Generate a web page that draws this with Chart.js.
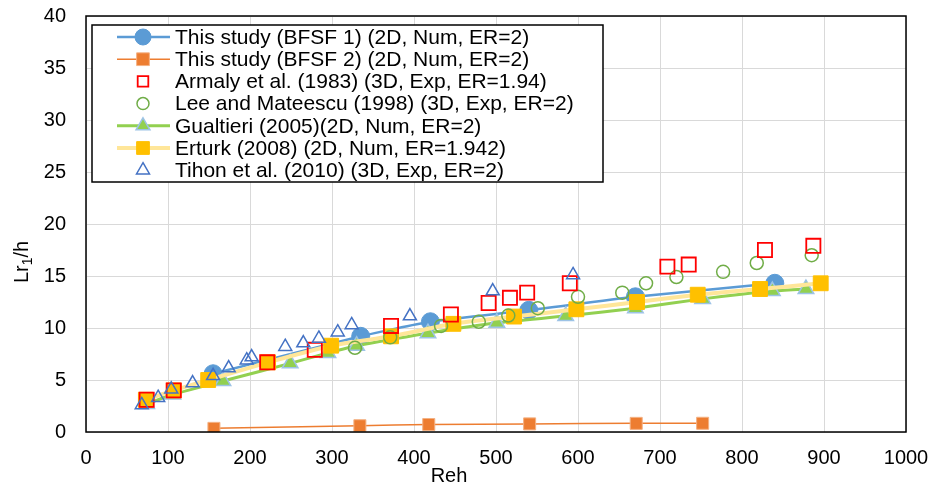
<!DOCTYPE html>
<html><head><meta charset="utf-8">
<script src="https://cdn.jsdelivr.net/npm/chart.js@4/dist/chart.umd.min.js"></script>
<style>html,body{margin:0;padding:0;background:#fff}#wrap{width:930px;height:484px;position:relative}</style>
</head><body><div id="wrap"><canvas id="c"></canvas></div>
<script>
const xTicks = [0,100,200,300,400,500,600,700,800,900,1000];
const yTicks = [0,5,10,15,20,25,30,35,40];
const seriesNames = [
  'This study (BFSF 1) (2D, Num, ER=2)',
  'This study (BFSF 2) (2D, Num, ER=2)',
  'Armaly et al. (1983) (3D, Exp, ER=1.94)',
  'Lee and Mateescu (1998) (3D, Exp, ER=2)',
  'Gualtieri (2005)(2D, Num, ER=2)',
  'Erturk (2008) (2D, Num, ER=1.942)',
  'Tihon et al. (2010) (3D, Exp, ER=2)'
];
const bfsf1Reh = [155,335,420,540,670,840];
const bfsf1Lr  = [5.6,9.2,10.6,11.7,13.0,14.3];
const bfsf2Reh = [156,334,418,541,671,752];
const bfsf2Lr  = [0.35,0.6,0.72,0.78,0.83,0.84];
const armalyReh = [74,107,221,279,372,445,491,517,538,590,709,735,828,887];
const armalyLr  = [3.1,4.0,6.7,7.9,10.2,11.3,12.4,12.9,13.4,14.3,15.9,16.1,17.5,17.9];
const leeReh = [328,371,433,479,515,551,600,654,683,720,777,818,885];
const leeLr  = [8.1,9.1,10.2,10.6,11.2,11.9,13.0,13.4,14.3,14.9,15.4,16.25,17.0];
const gualReh = [74,106,167,249,295,330,417,501,585,670,752,837,878];
const gualLr  = [2.7,3.6,4.9,6.6,7.6,8.3,9.5,10.5,11.15,11.9,12.8,13.55,13.75];
const ertReh = [73,107,149,222,299,372,448,522,598,672,746,822,896];
const ertLr  = [3.1,4.0,5.0,6.7,8.3,9.2,10.4,11.1,11.8,12.5,13.2,13.75,14.3];
const tihReh = [68,88,104,130,155,174,196,202,243,265,284,307,324,395,496,594];
const tihLr  = [2.6,3.3,4.1,4.7,5.4,6.15,6.9,7.2,8.2,8.55,9.0,9.6,10.3,11.15,13.55,15.1];

const pts = (xs, ys) => xs.map((x, i) => ({x: x, y: ys[i]}));
const FONT = '"Liberation Sans", Arial, sans-serif';

const styles = [
  {type:'circle', r:9, fill:'#5B9BD5', stroke:'#5B9BD5', bw:1, line:'#5B9BD5', lw:2.5},
  {type:'rect', r:8.5, fill:'#ED7D31', stroke:'#F4B183', bw:1, line:'#ED7D31', lw:1.5},
  {type:'rect', r:10, fill:'rgba(0,0,0,0)', stroke:'#FF0000', bw:1.8, line:null, lw:0},
  {type:'circle', r:6.5, fill:'rgba(0,0,0,0)', stroke:'#70AD47', bw:1.5, line:null, lw:0},
  {type:'triangle', r:9, fill:'#92D050', stroke:'#9DC3E6', bw:1.5, line:'#92D050', lw:3},
  {type:'rect', r:10.5, fill:'#FFC000', stroke:'#FFC000', bw:1, line:'#FFE699', lw:4},
  {type:'triangle', r:7.5, fill:'rgba(0,0,0,0)', stroke:'#4472C4', bw:1.5, line:null, lw:0}
];
const dataArr = [pts(bfsf1Reh,bfsf1Lr), pts(bfsf2Reh,bfsf2Lr), pts(armalyReh,armalyLr), pts(leeReh,leeLr), pts(gualReh,gualLr), pts(ertReh,ertLr), pts(tihReh,tihLr)];
const orders = [6,5,1,2,4,3,0];

const datasets = dataArr.map((d, i) => {
  const s = styles[i];
  return {
    label: seriesNames[i], data: d, order: orders[i],
    showLine: !!s.line, borderColor: s.line || s.stroke, borderWidth: s.lw, tension: 0.2,
    pointStyle: s.type, pointRadius: s.r, pointHoverRadius: s.r,
    pointBackgroundColor: s.fill, pointBorderColor: s.stroke, pointBorderWidth: s.bw,
    backgroundColor: s.fill
  };
});

function drawMarker(ctx, s, x, y) {
  ctx.save();
  ctx.fillStyle = s.fill; ctx.strokeStyle = s.stroke; ctx.lineWidth = s.bw;
  ctx.beginPath();
  if (s.type === 'circle') { ctx.arc(x, y, s.r, 0, Math.PI*2); }
  else if (s.type === 'rect') { const h = Math.SQRT1_2 * s.r; ctx.rect(x-h, y-h, 2*h, 2*h); }
  else { const r = s.r; ctx.moveTo(x, y-r); ctx.lineTo(x + r*Math.sin(2*Math.PI/3), y + 0.5*r); ctx.lineTo(x - r*Math.sin(2*Math.PI/3), y + 0.5*r); ctx.closePath(); }
  ctx.fill(); ctx.stroke();
  ctx.restore();
}

const decor = {
  id: 'decor',
  afterDatasetsDraw(chart) {
    const ctx = chart.ctx, a = chart.chartArea;
    ctx.save();
    ctx.strokeStyle = '#000'; ctx.lineWidth = 1.5;
    ctx.strokeRect(a.left, a.top, a.right - a.left, a.bottom - a.top);
    const lx = 92, ly = 25, lw = 511, lh = 157;
    ctx.fillStyle = '#fff'; ctx.fillRect(lx, ly, lw, lh);
    ctx.strokeStyle = '#000'; ctx.lineWidth = 1.5; ctx.strokeRect(lx, ly, lw, lh);
    ctx.font = '21px ' + FONT; ctx.textBaseline = 'middle'; ctx.textAlign = 'left';
    for (let i = 0; i < seriesNames.length; i++) {
      const y = 37 + i * 22.2, s = styles[i];
      if (s.line) {
        ctx.strokeStyle = s.line; ctx.lineWidth = s.lw;
        ctx.beginPath(); ctx.moveTo(117, y); ctx.lineTo(170, y); ctx.stroke();
      }
      const ms = Object.assign({}, s, {r: s.type==='circle' && s.line ? 8 : (s.type==='rect' && s.line ? 9 : (s.type==='circle' ? 6 : (s.type==='triangle' && s.line ? 8 : 7.5)))});
      drawMarker(ctx, ms, 143, y);
      ctx.fillStyle = '#000';
      ctx.fillText(seriesNames[i], 175, y + 1);
    }
    ctx.fillStyle = '#000';
    ctx.font = '20px ' + FONT; ctx.textAlign = 'center'; ctx.textBaseline = 'alphabetic';
    ctx.fillText('Reh', 449, 482);
    ctx.save();
    ctx.translate(28, 262); ctx.rotate(-Math.PI/2);
    ctx.textAlign = 'left';
    ctx.font = '20px ' + FONT; const w1 = ctx.measureText('Lr').width;
    ctx.font = '14px ' + FONT; const w2 = ctx.measureText('1').width;
    ctx.font = '20px ' + FONT; const w3 = ctx.measureText('/h').width;
    const start = -(w1 + w2 + w3) / 2;
    ctx.fillText('Lr', start, 0);
    ctx.font = '14px ' + FONT; ctx.fillText('1', start + w1, 4);
    ctx.font = '20px ' + FONT; ctx.fillText('/h', start + w1 + w2, 0);
    ctx.restore();
    ctx.restore();
  }
};

new Chart(document.getElementById('c'), {
  type: 'scatter',
  data: { datasets },
  options: {
    responsive: true, maintainAspectRatio: false, animation: false,
    layout: { padding: { top: 16, right: 24, left: 0, bottom: 0 } },
    plugins: { legend: { display: false }, tooltip: { enabled: false } },
    scales: {
      x: {
        type: 'linear', min: 0, max: 1000,
        afterBuildTicks: s => { s.ticks = xTicks.map(v => ({value: v})); },
        ticks: { color: '#000', font: { family: FONT, size: 20 }, padding: 14, maxRotation: 0, autoSkip: false, callback: v => String(v) },
        grid: { color: '#D9D9D9', lineWidth: 1, drawTicks: false },
        border: { display: false },
        afterFit: s => { s.height = 52; s.paddingLeft = 0; s.paddingRight = 0; }
      },
      y: {
        min: 0, max: 40,
        afterBuildTicks: s => { s.ticks = yTicks.map(v => ({value: v})); },
        ticks: { color: '#000', font: { family: FONT, size: 20 }, padding: 20, autoSkip: false, callback: v => String(v) },
        grid: { color: '#D9D9D9', lineWidth: 1, drawTicks: false },
        border: { display: false },
        afterFit: s => { s.width = 86; s.paddingTop = 0; s.paddingBottom = 0; }
      }
    }
  },
  plugins: [decor]
});
</script>
</body></html>
